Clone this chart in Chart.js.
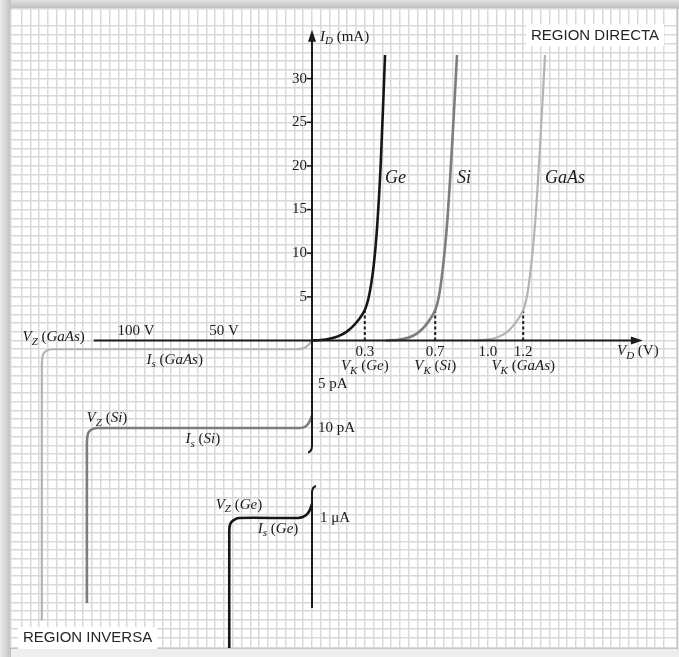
<!DOCTYPE html>
<html>
<head>
<meta charset="utf-8">
<script src="https://cdn.jsdelivr.net/npm/chart.js@4/dist/chart.umd.min.js"></script>
<style>
  html, body { margin: 0; padding: 0; background: #ffffff; }
  #wrap { position: relative; width: 679px; height: 657px; }
  canvas { display: block; }
</style>
</head>
<body>
<div id="wrap"><canvas id="c" width="679" height="657"></canvas></div>
<script>
// ---- Forward region: diode voltage V_D (V) and diode current I_D (mA) ----
const geFwdV   = [0, 0.05, 0.1, 0.15, 0.2, 0.25, 0.3, 0.325, 0.35, 0.37, 0.39, 0.415];
const geFwdI   = [0, 0.05, 0.2, 0.5, 1.05, 2.0, 3.5, 5.2, 8.5, 13, 20, 32.7];
const siFwdV   = [0.42, 0.5, 0.55, 0.6, 0.65, 0.7, 0.725, 0.75, 0.77, 0.795, 0.824];
const siFwdI   = [0, 0.12, 0.35, 0.85, 1.85, 3.5, 5.5, 9.5, 14, 22, 32.7];
const gaasFwdV = [0.92, 1.0, 1.05, 1.1, 1.15, 1.2, 1.225, 1.25, 1.27, 1.295, 1.324];
const gaasFwdI = [0, 0.12, 0.35, 0.85, 1.85, 3.5, 5.5, 9.5, 14, 22, 32.7];

// knee voltages V_K (V) and the current where the dashed marker meets each curve (mA)
const kneeV = [0.3, 0.7, 1.2];
const kneeI = [3.5, 3.5, 3.5];

// ---- Reverse region: reverse voltage (V); leakage current in pA (GaAs, Si) and µA (Ge) ----
const gaasRevV = [0, -2, -5, -10, -148, -151, -152.8, -153.4, -153.5, -153.5];
const gaasRevI = [0, -0.5, -0.9, -1.0, -1.0, -1.2, -1.6, -2.3, -3.5, -32];
const siRevV   = [0, -1.5, -3.5, -7, -122.5, -125.5, -127.2, -127.8, -127.9, -127.9];
const siRevI   = [-8.6, -9.3, -9.8, -10, -10, -10.2, -10.6, -11.3, -12.5, -30];
const geRevV   = [0, -1, -2.5, -5, -8, -41.5, -44.5, -46.3, -46.9, -47, -47];
const geRevI   = [-0.92, -0.95, -0.975, -0.993, -1.0, -1.0, -1.012, -1.03, -1.055, -1.09, -1.9];

// ---- Tick labels ----
const currentTicks = [5, 10, 15, 20, 25, 30];          // mA
const voltageTicks = [0.3, 0.7, 1.0, 1.2];             // V
const voltageTickText = ['0.3', '0.7', '1.0', '1.2'];
const reverseVoltTicks = [-100, -50];                  // V
const reverseVoltText = ['100 V', '50 V'];
const leakTicksPA = [-5, -10];                         // pA
const leakTextPA = ['5 pA', '10 pA'];
const leakTicksUA = [-1];                              // µA
const leakTextUA = ['1 μA'];

const pts = (xs, ys) => xs.map((v, i) => ({ x: v, y: ys[i] }));

const GE = '#161616', SI = '#7d7d7d', GAAS = '#b4b4b4', INK = '#1b1b1b';
const SERIF = '"Liberation Serif", "Times New Roman", serif';

function curve(label, data, color, width, xAxisID, yAxisID) {
  return {
    label, data, borderColor: color, borderWidth: width, showLine: true,
    pointRadius: 0, pointHoverRadius: 0, tension: 0.3, fill: false,
    xAxisID, yAxisID
  };
}

const datasets = [
  curve('Ge', pts(geFwdV, geFwdI), GE, 2.6, 'x', 'y'),
  curve('Si', pts(siFwdV, siFwdI), SI, 2.6, 'x', 'y'),
  curve('GaAs', pts(gaasFwdV, gaasFwdI), GAAS, 2.2, 'x', 'y'),
  curve('Ge reverse', pts(geRevV, geRevI), GE, 2.6, 'xR', 'yU'),
  curve('Si reverse', pts(siRevV, siRevI), SI, 2.6, 'xR', 'yP'),
  curve('GaAs reverse', pts(gaasRevV, gaasRevI), GAAS, 2.2, 'xR', 'yP'),
];
kneeV.forEach((v, i) => {
  datasets.push({
    label: 'V_K ' + v, data: [{ x: v, y: 0 }, { x: v, y: kneeI[i] }],
    borderColor: INK, borderWidth: 2, borderDash: [3, 2.5], showLine: true,
    pointRadius: 0, tension: 0, xAxisID: 'x', yAxisID: 'y'
  });
});

// rich text: parts = [[text, kind]] kind: r roman, i italic, s subscript
function rich(ctx, parts, x, y, align, size) {
  const fontOf = k => k === 'r' ? `${size}px ${SERIF}` :
                      k === 'i' ? `italic ${size}px ${SERIF}` :
                      `italic ${Math.round(size * 0.7)}px ${SERIF}`;
  let total = 0;
  const w = parts.map(([t, k]) => { ctx.font = fontOf(k); const m = ctx.measureText(t).width; total += m; return m; });
  let cx = align === 'center' ? x - total / 2 : align === 'right' ? x - total : x;
  ctx.textAlign = 'left';
  ctx.textBaseline = 'middle';
  parts.forEach(([t, k], i) => {
    ctx.font = fontOf(k);
    ctx.fillText(t, cx, k === 's' ? y + size * 0.3 : y);
    cx += w[i];
  });
}

function boxedLabel(ctx, text, x, y) {
  ctx.font = '15px "Liberation Sans", Arial, sans-serif';
  const w = ctx.measureText(text).width;
  ctx.fillStyle = '#ffffff';
  ctx.fillRect(x - 5, y - 11, w + 10, 22);
  ctx.fillStyle = '#262626';
  ctx.textAlign = 'left';
  ctx.textBaseline = 'middle';
  ctx.fillText(text, x, y);
}

const diagram = {
  id: 'diodeDiagram',
  beforeDraw(chart) {
    const { ctx, chartArea: a, width, height } = chart;
    ctx.save();
    ctx.fillStyle = '#eeeeee';
    ctx.fillRect(0, 0, width, height);
    let g = ctx.createLinearGradient(0, 0, 0, a.top);
    g.addColorStop(0, '#e2e2e2'); g.addColorStop(1, '#bcbcbc');
    ctx.fillStyle = g; ctx.fillRect(0, 0, width, a.top);
    g = ctx.createLinearGradient(0, 0, a.left, 0);
    g.addColorStop(0, '#ececec'); g.addColorStop(1, '#c0c0c0');
    ctx.fillStyle = g; ctx.fillRect(0, 0, a.left, height);
    ctx.fillStyle = '#ffffff';
    ctx.fillRect(a.left, a.top, a.right - a.left, a.bottom - a.top);
    ctx.strokeStyle = '#b0b0b0'; ctx.lineWidth = 1;
    ctx.strokeRect(a.left - 0.5, a.top - 0.5, a.right - a.left + 1, a.bottom - a.top + 1);
    ctx.restore();
  },
  afterDatasetsDraw(chart) {
    const { ctx } = chart;
    const xs = chart.scales.x, ys = chart.scales.y, xr = chart.scales.xR,
          yp = chart.scales.yP, yu = chart.scales.yU;
    const ox = xs.getPixelForValue(0), oy = ys.getPixelForValue(0);
    ctx.save();
    ctx.strokeStyle = INK; ctx.fillStyle = INK; ctx.lineWidth = 2; ctx.lineCap = 'butt';

    // V_D axis with arrow
    const axL = xr.getPixelForValue(-124), axR = xs.getPixelForValue(1.88);
    ctx.beginPath(); ctx.moveTo(axL, oy); ctx.lineTo(axR - 8, oy); ctx.stroke();
    ctx.beginPath(); ctx.moveTo(axR, oy); ctx.lineTo(axR - 12, oy - 4); ctx.lineTo(axR - 12, oy + 4); ctx.closePath(); ctx.fill();

    // I_D axis, upper part with arrow and break
    const axT = ys.getPixelForValue(35.6), brk1 = yp.getPixelForValue(-12.7);
    ctx.beginPath(); ctx.moveTo(ox, axT + 8); ctx.lineTo(ox, brk1 - 6);
    ctx.quadraticCurveTo(ox, brk1, ox - 4, brk1 + 1); ctx.stroke();
    ctx.beginPath(); ctx.moveTo(ox, axT); ctx.lineTo(ox - 4, axT + 12); ctx.lineTo(ox + 4, axT + 12); ctx.closePath(); ctx.fill();

    // I_D axis, lower part after the break
    const brk2 = yu.getPixelForValue(-0.825), axB = yu.getPixelForValue(-1.507);
    ctx.beginPath(); ctx.moveTo(ox + 4, brk2 - 1); ctx.quadraticCurveTo(ox, brk2, ox, brk2 + 6);
    ctx.lineTo(ox, axB); ctx.stroke();

    // current tick marks and labels
    ctx.lineWidth = 1.5;
    currentTicks.forEach(v => {
      const py = ys.getPixelForValue(v);
      ctx.beginPath(); ctx.moveTo(ox - 5, py); ctx.lineTo(ox, py); ctx.stroke();
      rich(ctx, [[String(v), 'r']], ox - 5, py, 'right', 15);
    });

    ctx.fillStyle = INK;
    // forward voltage labels
    voltageTicks.forEach((v, i) => rich(ctx, [[voltageTickText[i], 'r']], xs.getPixelForValue(v), oy + 12, 'center', 15));
    const kneeNames = ['Ge', 'Si', 'GaAs'];
    kneeV.forEach((v, i) => rich(ctx, [['V', 'i'], ['K', 's'], [' (', 'r'], [kneeNames[i], 'i'], [')', 'r']],
      xs.getPixelForValue(v), oy + 26, 'center', 15));
    rich(ctx, [['V', 'i'], ['D', 's'], [' (V)', 'r']], xs.getPixelForValue(1.733), oy + 11, 'left', 15);
    rich(ctx, [['I', 'i'], ['D', 's'], [' (mA)', 'r']], ox + 8, ys.getPixelForValue(34.8), 'left', 15);

    // curve names next to the top of each forward curve
    [[geFwdV, 'Ge'], [siFwdV, 'Si'], [gaasFwdV, 'GaAs']].forEach(([vs, name]) =>
      rich(ctx, [[name, 'i']], xs.getPixelForValue(vs[vs.length - 1]), ys.getPixelForValue(18.6), 'left', 18));

    // reverse voltage and leakage labels
    reverseVoltTicks.forEach((v, i) => rich(ctx, [[reverseVoltText[i], 'r']], xr.getPixelForValue(v), oy - 9, 'center', 15));
    leakTicksPA.forEach((v, i) => rich(ctx, [[leakTextPA[i], 'r']], ox + 6, yp.getPixelForValue(v), 'left', 15));
    leakTicksUA.forEach((v, i) => rich(ctx, [[leakTextUA[i], 'r']], ox + 8, yu.getPixelForValue(v), 'left', 15));

    rich(ctx, [['V', 'i'], ['Z', 's'], [' (', 'r'], ['GaAs', 'i'], [')', 'r']], xr.getPixelForValue(-164.5), oy - 3, 'left', 15);
    rich(ctx, [['I', 'i'], ['s', 's'], [' (', 'r'], ['GaAs', 'i'], [')', 'r']], xr.getPixelForValue(-78), yp.getPixelForValue(-2.2), 'center', 15);
    rich(ctx, [['V', 'i'], ['Z', 's'], [' (', 'r'], ['Si', 'i'], [')', 'r']], xr.getPixelForValue(-116.5), yp.getPixelForValue(-8.9), 'center', 15);
    rich(ctx, [['I', 'i'], ['s', 's'], [' (', 'r'], ['Si', 'i'], [')', 'r']], xr.getPixelForValue(-62), yp.getPixelForValue(-11.3), 'center', 15);
    rich(ctx, [['V', 'i'], ['Z', 's'], [' (', 'r'], ['Ge', 'i'], [')', 'r']], xr.getPixelForValue(-41.5), yu.getPixelForValue(-0.925), 'center', 15);
    rich(ctx, [['I', 'i'], ['s', 's'], [' (', 'r'], ['Ge', 'i'], [')', 'r']], xr.getPixelForValue(-19.3), yu.getPixelForValue(-1.06), 'center', 15);

    // region captions
    const a = chart.chartArea;
    boxedLabel(ctx, 'REGION DIRECTA', a.right - 146, ys.getPixelForValue(34.95));
    boxedLabel(ctx, 'REGION INVERSA', a.left + 12, a.bottom - 10);
    ctx.restore();
  }
};

const gridStyle = { color: '#d9d9d9', lineWidth: 1.5, drawTicks: false };

new Chart(document.getElementById('c'), {
  type: 'scatter',
  data: { datasets },
  options: {
    responsive: false,
    animation: false,
    events: [],
    layout: { padding: { left: 11, top: 9, right: 2, bottom: 9 } },
    plugins: { legend: { display: false }, tooltip: { enabled: false } },
    scales: {
      x:  { type: 'linear', min: -1.7102, max: 2.0739, display: true,
            ticks: { display: false, stepSize: 0.05 }, grid: gridStyle, border: { display: false } },
      y:  { type: 'linear', min: -35.223, max: 37.973, display: true,
            ticks: { display: false, stepSize: 1 }, grid: gridStyle, border: { display: false } },
      xR: { type: 'linear', axis: 'x', min: -171.02, max: 207.39, display: false },
      yP: { type: 'linear', axis: 'y', min: -35.143, max: 37.886, display: false },
      yU: { type: 'linear', axis: 'y', min: -1.7324, max: 1.8676, display: false }
    }
  },
  plugins: [diagram]
});
</script>
</body>
</html>
